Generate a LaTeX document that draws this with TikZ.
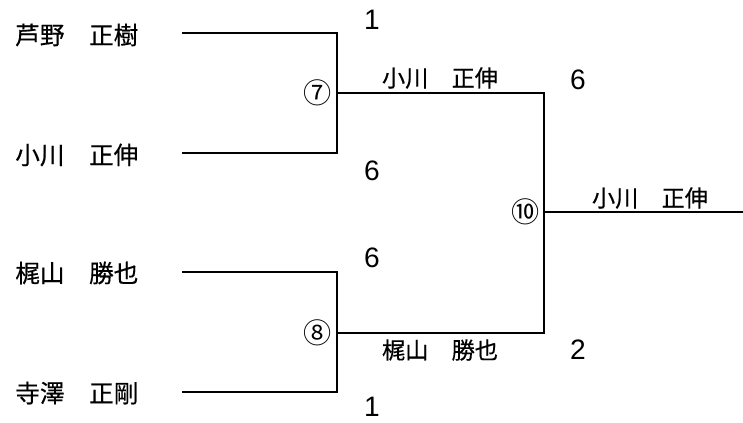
\documentclass[tikz,border=0pt]{standalone}
\usepackage{fontspec}
\setmainfont{Liberation Sans}
\newfontfamily\jpfont[FakeBold=0.4]{Noto Sans CJK JP}
\newfontfamily\circfont{Noto Sans CJK JP}
\usetikzlibrary{calc}

\tikzset{
  bracket/.style={line width=1.6pt},
  player/.style={anchor=west,inner sep=0pt,font=\jpfont\fontsize{17.5}{20}\selectfont},
  winner/.style={inner sep=0pt,font=\jpfont\fontsize{16.5}{19}\selectfont},
  score/.style={inner sep=0pt,font=\fontsize{20}{22}\selectfont},
  match/.style={inner sep=0pt,font=\circfont\fontsize{20}{22}\selectfont}
}

\begin{document}
\begin{tikzpicture}[x=0.025cm,y=-0.025cm]
  \useasboundingbox (0,0) rectangle (743,422);

  % players
  \node[player] (ashino)   at (15,35)  {芦野　正樹};
  \node[player] (ogawa)    at (15,155) {小川　正伸};
  \node[player] (kajiyama) at (15,273) {梶山　勝也};
  \node[player] (terasawa) at (15,393) {寺澤　正剛};

  % bracket points
  \coordinate (s1) at (182,33);
  \coordinate (s2) at (182,153);
  \coordinate (s3) at (182,272);
  \coordinate (s4) at (182,392);
  \coordinate (j7) at (337,93);
  \coordinate (j8) at (337,333);
  \coordinate (j10) at (544,212);
  \coordinate (fin) at (743,212);

  % lines
  \draw[bracket] (s1) -| (j7);
  \draw[bracket] (s2) -| (j7);
  \draw[bracket] (s3) -| (j8);
  \draw[bracket] (s4) -| (j8);
  \draw[bracket] (j7) -| (j10);
  \draw[bracket] (j8) -| (j10);
  \draw[bracket] (j10) -- (fin);

  % match numbers
  \node[match] (m7)  at (318,93)  {⑦};
  \node[match] (m8)  at (318,333) {⑧};
  \node[match] (m10) at (526,212) {⑩};

  % winners
  \node[winner] (w7)  at (440,78)  {小川　正伸};
  \node[winner] (w8)  at (440,350) {梶山　勝也};
  \node[winner] (w10) at (650,198) {小川　正伸};

  % scores
  \node[score] (sc1) at (372,20)  {1};
  \node[score] (sc2) at (372,171) {6};
  \node[score] (sc3) at (372,258) {6};
  \node[score] (sc4) at (372,407) {1};
  \node[score] (sc5) at (578,80)  {6};
  \node[score] (sc6) at (578,350) {2};
\end{tikzpicture}
\end{document}
